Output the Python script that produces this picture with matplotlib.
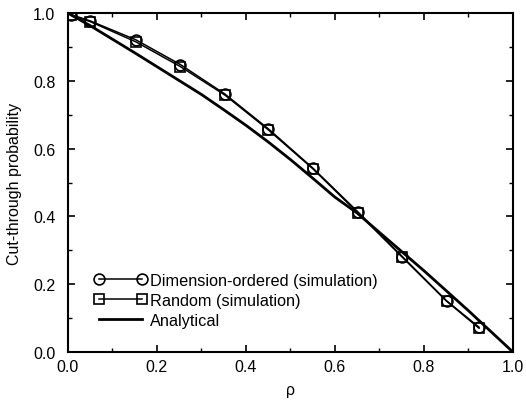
import numpy as np
import matplotlib
matplotlib.use('Agg')
import matplotlib.pyplot as plt
from matplotlib.ticker import MultipleLocator

# simulation points
rho_sim = [0.008, 0.05, 0.153, 0.253, 0.353, 0.45, 0.551, 0.652, 0.752, 0.851, 0.924]
dim_ordered = [0.995, 0.977, 0.921, 0.848, 0.761, 0.659, 0.542, 0.413, 0.281, 0.151, 0.073]
random_sim = [0.993, 0.975, 0.915, 0.842, 0.758, 0.656, 0.540, 0.410, 0.279, 0.150, 0.070]

# analytical curve
rho_an = [0.0, 0.05, 0.1, 0.15, 0.2, 0.25, 0.3, 0.35, 0.4, 0.45, 0.5, 0.55,
          0.6, 0.65, 0.7, 0.8, 0.9, 1.0]
analytical = [1.0, 0.963, 0.923, 0.883, 0.842, 0.801, 0.760, 0.715, 0.669, 0.620,
              0.568, 0.513, 0.457, 0.410, 0.353, 0.240, 0.122, 0.0]

plt.rcParams['font.family'] = ['Liberation Sans', 'DejaVu Sans']

fig = plt.figure(figsize=(5.26, 4.02), dpi=100)
ax = fig.add_axes([0.129, 0.122, 0.846, 0.843])

ax.plot(rho_sim, dim_ordered, color='black', lw=1.1, marker='o', ms=7.8,
        mfc='none', mec='black', mew=1.2, label='Dimension-ordered (simulation)')
ax.plot(rho_sim, random_sim, color='black', lw=1.1, marker='s', ms=6.6,
        mfc='none', mec='black', mew=1.2, label='Random (simulation)')
ax.plot(rho_an, analytical, color='black', lw=2.0, label='Analytical')

ax.set_xlim(0, 1)
ax.set_ylim(0, 1)
ax.xaxis.set_major_locator(MultipleLocator(0.2))
ax.xaxis.set_minor_locator(MultipleLocator(0.1))
ax.yaxis.set_major_locator(MultipleLocator(0.2))
ax.yaxis.set_minor_locator(MultipleLocator(0.1))
ax.xaxis.set_major_formatter(plt.FormatStrFormatter('%.1f'))
ax.yaxis.set_major_formatter(plt.FormatStrFormatter('%.1f'))
ax.tick_params(which='both', direction='in', top=True, right=True, labelsize=11.5)
ax.tick_params(which='major', length=5, width=1.2)
ax.tick_params(which='minor', length=3, width=1)
ax.tick_params(axis='y', pad=9)
ax.tick_params(axis='x', pad=5)
for s in ax.spines.values():
    s.set_linewidth(1.5)

ax.set_xlabel('ρ', fontsize=11.5, labelpad=6)
ax.set_ylabel('Cut-through probability', fontsize=11.5, labelpad=8)

ax.legend(loc='lower left', bbox_to_anchor=(0.045, 0.052), frameon=False,
          numpoints=2, fontsize=11.7, handlelength=3.2, handletextpad=0.2,
          labelspacing=0.3, borderaxespad=0)

plt.savefig('out.png', dpi=100)
